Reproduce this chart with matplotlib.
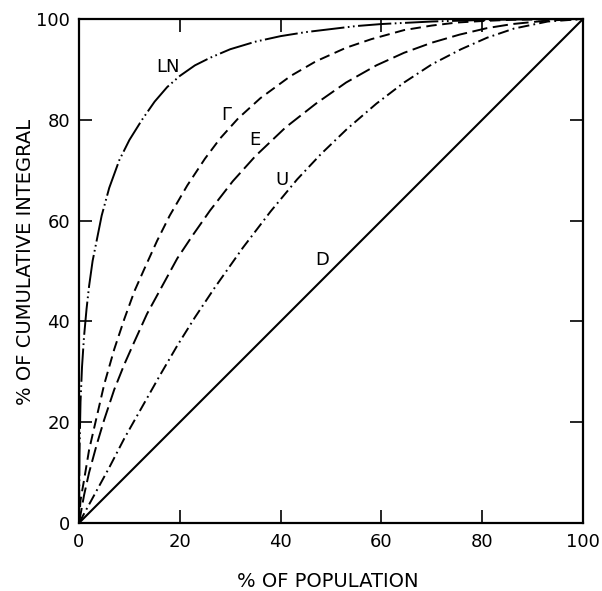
import matplotlib
matplotlib.use("Agg")
import matplotlib.pyplot as plt

# ---- data ----
ln_x = [0, 0.1, 0.3, 0.6, 1.0, 1.5, 2.0, 2.7, 3.5, 4.5, 6, 8, 10, 12.5, 15, 17.5, 20, 23, 26,
        30, 35, 40, 45, 50, 55, 60, 70, 80, 90, 100]
ln_y = [0, 14, 24, 31, 37, 42.5, 47, 52, 56, 61, 66.5, 72, 76, 80, 83.6, 86.5, 88.7, 90.8, 92.3,
        94, 95.5, 96.6, 97.4, 98.0, 98.6, 99.0, 99.5, 99.8, 99.95, 100]

gam_x = [0, 0.3, 1, 2, 3.5, 5, 7, 9, 11, 13, 15.5, 18, 21.5, 25, 28, 31.6, 36, 42, 47, 53,
         58, 64.5, 70, 75, 80, 86, 93, 100]
gam_y = [0, 4.5, 8.5, 14.5, 21, 27.5, 34.5, 40.5, 46, 50.5, 56, 61, 67, 72.3, 76.3, 80.3, 84.3,
         88.7, 91.6, 94.3, 96.0, 97.8, 98.7, 99.3, 99.6, 99.85, 99.95, 100]

exp_x = [0, 1, 2, 3.5, 5, 7, 9, 11, 13.5, 16.5, 19.5, 22.5, 26, 30.5, 35, 41, 47, 53, 59,
         64.5, 70, 75.5, 81, 86, 93, 100]
exp_y = [0, 5.5, 10, 15.5, 20.5, 26.5, 31.5, 36, 41.5, 47, 52.5, 57, 62, 67.8, 72.8, 78.5, 83.2,
         87.4, 90.8, 93.3, 95.3, 96.9, 98.2, 99.0, 99.7, 100]

uni_x = [0, 3, 6, 9, 12.5, 16, 19.5, 23, 27, 32.5, 38, 43.3, 48, 53.2, 59, 64.5, 70, 75.8, 81,
         86.3, 93, 100]
uni_y = [0, 5.5, 11, 16.8, 23, 29.2, 35.2, 40.8, 46.8, 54.6, 61.8, 68.2, 73.2, 78.2, 83.2, 87.4,
         91.0, 94.0, 96.3, 98.1, 99.5, 100]

del_x = [0, 100]
del_y = [0, 100]

curve_labels = ["LN", "\u0393", "E", "U", "D"]
label_x = [17.6, 29.2, 34.9, 40.2, 48.3]
label_y = [90.5, 81.0, 76.0, 68.0, 52.2]

ticks = [0, 20, 40, 60, 80, 100]
xlabel = "% OF POPULATION"
ylabel = "% OF CUMULATIVE INTEGRAL"

# ---- plotting ----
plt.rcParams["font.family"] = ["DejaVu Sans"]
plt.rcParams["lines.scale_dashes"] = False

fig = plt.figure(figsize=(6.02, 5.91), dpi=100)
ax = fig.add_axes([79 / 602, 68 / 591, 504 / 602, 504 / 591])

lw = 1.4
ax.plot(ln_x, ln_y, color="black", lw=lw, linestyle=(0, (24, 2.5, 1.2, 2.5, 1.2, 2.5)))
ax.plot(gam_x, gam_y, color="black", lw=lw, linestyle=(0, (7.5, 4)))
ax.plot(exp_x, exp_y, color="black", lw=lw, linestyle=(0, (11, 4)))
ax.plot(uni_x, uni_y, color="black", lw=lw, linestyle=(0, (8, 3, 1.3, 3)))
ax.plot(del_x, del_y, color="black", lw=1.5, linestyle="-")

for t, lx, ly in zip(curve_labels, label_x, label_y):
    ax.text(lx, ly, t, fontsize=13, ha="center", va="center", color="black")

ax.set_xlim(0, 100)
ax.set_ylim(0, 100)
ax.set_xticks(ticks)
ax.set_yticks(ticks)
ax.set_xticklabels([str(t) for t in ticks])
ax.set_yticklabels([str(t) for t in ticks])
ax.tick_params(direction="in", length=9.5, width=1.2, top=True, right=True,
               labelsize=13, colors="black")
ax.tick_params(axis="x", pad=7)
ax.tick_params(axis="y", pad=6.5)
for s in ax.spines.values():
    s.set_linewidth(1.6)
    s.set_color("black")

ax.set_xlabel(xlabel, fontsize=14)
ax.set_ylabel(ylabel, fontsize=14)
ax.xaxis.set_label_coords(0.494, -0.097)
ax.yaxis.set_label_coords(-0.087, 0.518)

fig.savefig("out.png", dpi=100)
